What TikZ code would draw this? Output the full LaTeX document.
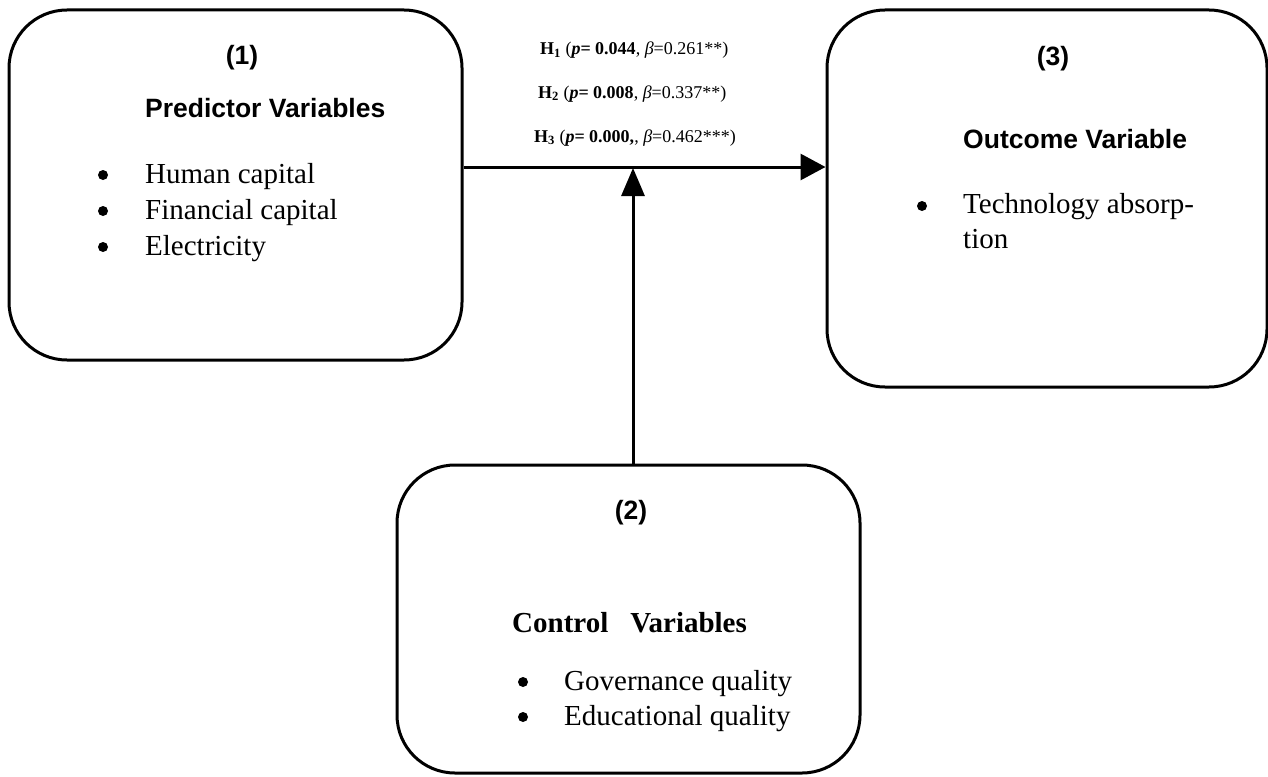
\documentclass[tikz,border=0pt]{standalone}
\usepackage{fontspec}
\setmainfont{Liberation Serif}
\newfontfamily\arialf{Liberation Sans}
\usetikzlibrary{arrows.meta}
\tikzset{
  box/.style={draw, line width=3pt, rounded corners=58pt, inner sep=0pt},
  head/.style={font=\arialf\bfseries\fontsize{26.5}{30}\selectfont, inner sep=0pt, anchor=base},
  headw/.style={font=\arialf\bfseries\fontsize{26.5}{30}\selectfont, inner sep=0pt, anchor=base west},
  item/.style={font=\fontsize{29}{35}\selectfont, inner sep=0pt, anchor=base west},
  bul/.style={circle, fill, inner sep=0pt, minimum size=10pt},
  hyp/.style={font=\fontsize{18}{21}\selectfont, inner sep=0pt, anchor=base west},
  arr/.style={line width=3pt, -{Triangle[length=25pt,width=26pt]}},
  varr/.style={line width=3pt, -{Triangle[length=28pt,width=23pt]}}
}
\begin{document}
\begin{tikzpicture}[x=1pt,y=-1pt]
\useasboundingbox (0,0) rectangle (1268,776);
% boxes
\node[box, minimum width=453pt, minimum height=350pt] (b1) at (235.5,185) {};
\node[box, minimum width=440pt, minimum height=377pt] (b3) at (1047,198.5) {};
\node[box, minimum width=463pt, minimum height=308pt] (b2) at (628.5,619) {};
% box 1 text
\node[head] (n1) at (242,65) {(1)};
\node[headw] (t1) at (145,117) {Predictor Variables};
\node[bul] (p1) at (103,175) {};
\node[bul] (p2) at (103,211) {};
\node[bul] (p3) at (103,247) {};
\node[item] (i1) at (145,183) {Human capital};
\node[item] (i2) at (145,219) {Financial capital};
\node[item] (i3) at (145,255) {Electricity};
% box 3 text
\node[head] (n3) at (1053,66) {(3)};
\node[headw] (t3) at (963,148) {Outcome Variable};
\node[bul] (q1) at (922,206) {};
\node[item] (j1) at (963,213) {Technology absorp-};
\node[item] (j2) at (963,248) {tion};
% box 2 text
\node[head] (n2) at (631,519) {(2)};
\node[item, font=\bfseries\fontsize{29}{35}\selectfont] (t2) at (512,632) {Control\hspace{22pt}Variables};
\node[bul] (r1) at (523,682) {};
\node[bul] (r2) at (523,717) {};
\node[item] (k1) at (564,690) {Governance quality};
\node[item] (k2) at (564,725) {Educational quality};
% hypotheses
\node[hyp] (h1) at (540,55) {\textbf{H\textsubscript{1}} (\textbf{\textit{p}= 0.044}, \textit{β}=0.261**)};
\node[hyp] (h2) at (538,98) {\textbf{H\textsubscript{2}} (\textbf{\textit{p}= 0.008}, \textit{β}=0.337**)};
\node[hyp] (h3) at (534,142) {\textbf{H\textsubscript{3}} (\textbf{\textit{p}= 0.000,},\ \textit{β}=0.462***)};
% connectors
\coordinate (m) at (633,168);
\draw[arr] ([yshift=18pt]b1.east) -- ([yshift=31.5pt]b3.west);
\draw[varr] ([xshift=4.5pt]b2.north) -- (m);
\end{tikzpicture}
\end{document}
